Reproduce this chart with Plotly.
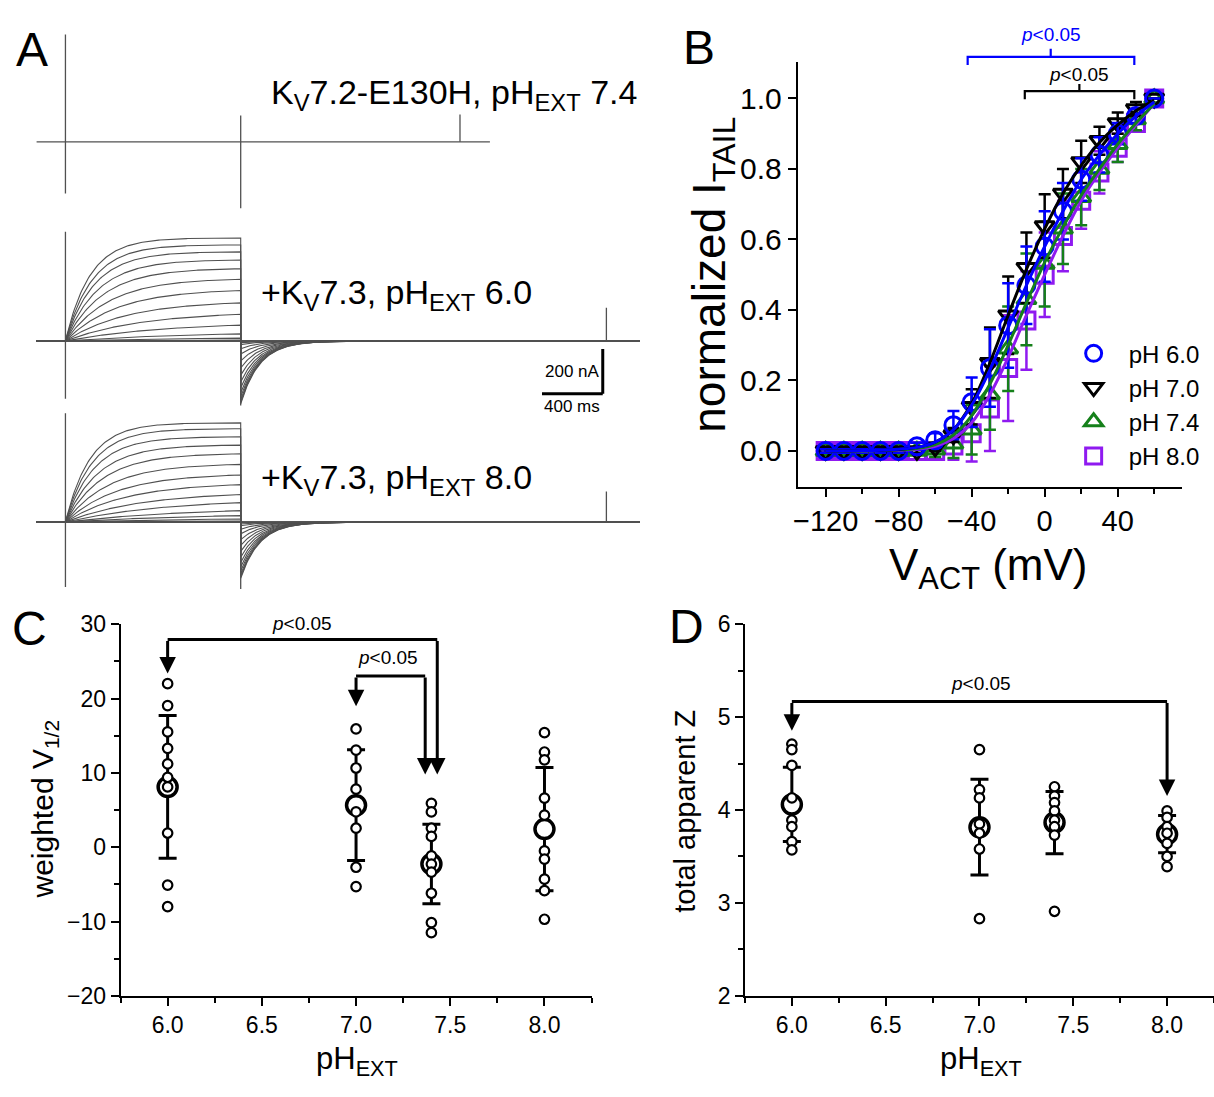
import numpy as np
import plotly.graph_objects as go

W, H = 1214, 1097
FONT = "Liberation Sans, Arial, sans-serif"

def px(x):
    return x / W

def py(y):
    return 1 - y / H

# ---------------- Panel A : current recordings ----------------
PULSE_END = 1154.0           # ms
T_START = -190.0
T_END_TOP = 2795.0
T_END = 3780.0
TAU_TAIL = 125.0
# end-of-pulse amplitudes (nA) for the 19 sweeps (+60 ... -120 mV)
mid_amp = [459, 428, 397, 361, 322, 275, 225, 170, 119, 71, 32, 13, 4, 1, 0, 0, 0, 0, 0]
bot_amp = [442, 416, 380, 343, 304, 257, 210, 167, 123, 87, 51, 29, 14, 5, 1, 0, 0, 0, 0]
# activation time constants (ms)
sweep_tau = [160, 175, 190, 215, 245, 285, 335, 400, 500, 650, 800, 900, 1000, 1000, 1000, 1000, 1000, 1000, 1000]
# tail peak amplitudes (nA)
mid_tail = [-280, -272, -262, -248, -230, -208, -182, -152, -120, -88, -58, -34, -16, -7, -3, -1, 0, 0, 0]
bot_tail = [-250, -242, -232, -218, -200, -180, -156, -130, -104, -78, -52, -32, -16, -8, -3, -1, 0, 0, 0]
# capacitive transients per block: onset up, onset down, end up, end down, spike time, spike amp
trans_top = [478, -230, 117, -296, 2598, 122]
trans_mid = [487, -257, 0, -287, 3562, 148]
trans_bot = [485, -289, 0, -298, 3562, 137]
block_offset = [0, -887, -1693.5]
trace_labels = ["K<sub>V</sub>7.2-E130H, pH<sub>EXT</sub> 7.4",
                "+K<sub>V</sub>7.3, pH<sub>EXT</sub> 6.0",
                "+K<sub>V</sub>7.3, pH<sub>EXT</sub> 8.0"]
SCALE_T, SCALE_I = 400, 200

# ---------------- Panel B : activation curves ----------------
v_act = [-120, -110, -100, -90, -80, -70, -60, -50, -40, -30, -20, -10, 0, 10, 20, 30, 40, 50, 60]
b60 = [0, 0, 0, 0, 0, 0.013, 0.03, 0.073, 0.138, 0.235, 0.356, 0.47, 0.58, 0.68, 0.77, 0.84, 0.90, 0.95, 1.0]
e60 = [0.005, 0.005, 0.005, 0.005, 0.005, 0.01, 0.02, 0.04, 0.07, 0.11, 0.12, 0.11, 0.10, 0.08, 0.06, 0.05, 0.03, 0.02, 0]
b70 = [0, 0, 0, 0, 0, 0, 0.01, 0.045, 0.125, 0.25, 0.385, 0.52, 0.638, 0.73, 0.82, 0.88, 0.93, 0.97, 1.0]
e70 = [0.005, 0.005, 0.005, 0.005, 0.005, 0.005, 0.01, 0.02, 0.05, 0.10, 0.11, 0.10, 0.09, 0.07, 0.06, 0.04, 0.03, 0.02, 0]
b74 = [0, 0, 0, 0, 0, 0, 0.003, 0.02, 0.06, 0.16, 0.29, 0.43, 0.53, 0.63, 0.72, 0.80, 0.87, 0.94, 1.0]
e74 = [0.01, 0.01, 0.01, 0.01, 0.01, 0.01, 0.02, 0.04, 0.07, 0.10, 0.12, 0.13, 0.12, 0.10, 0.08, 0.06, 0.05, 0.03, 0]
b80 = [0, 0, 0, 0, 0, 0, 0, 0.015, 0.05, 0.12, 0.235, 0.37, 0.50, 0.61, 0.71, 0.79, 0.86, 0.93, 1.0]
e80 = [0.005, 0.005, 0.005, 0.005, 0.005, 0.01, 0.02, 0.04, 0.08, 0.12, 0.15, 0.14, 0.12, 0.10, 0.08, 0.06, 0.04, 0.02, 0]
fit60 = [0, 0, 0.001, 0.002, 0.005, 0.01, 0.025, 0.06, 0.13, 0.23, 0.35, 0.47, 0.58, 0.68, 0.77, 0.84, 0.90, 0.95, 0.99]
fit70 = [0, 0, 0.001, 0.002, 0.004, 0.01, 0.025, 0.06, 0.135, 0.25, 0.385, 0.515, 0.63, 0.73, 0.81, 0.875, 0.925, 0.965, 0.995]
fit74 = [0, 0, 0, 0.001, 0.003, 0.007, 0.018, 0.045, 0.10, 0.19, 0.30, 0.42, 0.535, 0.635, 0.725, 0.80, 0.87, 0.93, 0.985]
fit80 = [0, 0, 0, 0.001, 0.002, 0.005, 0.013, 0.035, 0.08, 0.16, 0.265, 0.385, 0.50, 0.61, 0.71, 0.79, 0.86, 0.925, 0.985]
series_names = ["pH 6.0", "pH 7.0", "pH 7.4", "pH 8.0"]
series_colors = ["#0000FF", "#000000", "#15801A", "#8F1AF0"]
series_symbols = ["circle-open", "triangle-down-open", "triangle-up-open", "square-open"]
# significance brackets (mV span, centre)
brk_blue = [-42.2, 49.1, 3.3]
brk_black = [-10.9, 49.1, 19.0]

# ---------------- Panel C / D : V1/2 and z ----------------
ph_vals = [6.0, 7.0, 7.4, 8.0]
c_pts = [
    [22.0, 19.05, 15.5, 13.3, 11.2, 9.4, 8.1, 1.9, -5.1, -8.0],
    [15.9, 13.05, 10.65, 7.8, 4.74, 2.55, -2.7, -5.3],
    [5.9, 4.74, 2.55, 1.45, -1.17, -2.27, -3.36, -6.2, -10.15, -11.5],
    [15.4, 12.8, 11.75, 6.6, 4.3, -0.5, -1.6, -4.3, -5.85, -9.7],
]
c_mean = [8.1, 5.65, -2.26, 2.43]
c_sd = [9.6, 7.45, 5.34, 8.28]
d_pts = [
    [4.71, 4.65, 4.48, 4.13, 3.89, 3.82, 3.66, 3.57],
    [4.65, 4.22, 4.13, 3.85, 3.75, 3.58, 2.83],
    [4.25, 4.15, 4.08, 3.99, 3.89, 3.82, 3.73, 2.91],
    [3.99, 3.92, 3.82, 3.75, 3.64, 3.50, 3.39],
]
d_mean = [4.06, 3.815, 3.865, 3.74]
d_sd = [0.40, 0.515, 0.335, 0.20]
# significance arrows: [x_left, x_right, y_bar, y_tip_left, y_tip_right]
c_sig = [[6.0, 7.431, 27.94, 23.35, 9.77], [7.0, 7.367, 23.04, 18.97, 9.77]]
c_sig_text = [[6.714, 30.1], [7.17, 25.5]]
d_sig = [[6.0, 8.0, 5.168, 4.853, 4.15]]
d_sig_text = [[7.01, 5.36]]

fig = go.Figure()
GRAY = "#505050"

# ---- Panel A traces ----
t_pulse = np.linspace(0, PULSE_END, 140)
t_tail = np.linspace(PULSE_END, PULSE_END + 1200, 180)
for b, (amps, tails, trans) in enumerate([(None, None, trans_top), (mid_amp, mid_tail, trans_mid), (bot_amp, bot_tail, trans_bot)]):
    off = block_offset[b]
    t_end = T_END_TOP if b == 0 else T_END
    xs, ys = [], []
    if amps is None:
        xs += [T_START, t_end, None]
        ys += [off, off, None]
    else:
        for a, tl, tau in zip(amps, tails, sweep_tau):
            ip = a * (1 - np.exp(-t_pulse / tau)) / (1 - np.exp(-PULSE_END / tau))
            it = tl * np.exp(-(t_tail - PULSE_END) / TAU_TAIL)
            xs += [T_START] + list(t_pulse) + list(t_tail) + [t_end, None]
            ys += [off] + list(off + ip) + list(off + it) + [off, None]
    fig.add_trace(go.Scatter(x=xs, y=ys, mode="lines", line=dict(color=GRAY, width=1.1),
                             xaxis="x", yaxis="y", showlegend=False, hoverinfo="skip"))
    up0, dn0, up1, dn1, ts, sa = trans
    fig.add_trace(go.Scatter(
        x=[0, 0, None, PULSE_END, PULSE_END, None, ts, ts],
        y=[off + up0, off + dn0, None, off + up1, off + dn1, None, off, off + sa],
        mode="lines", line=dict(color=GRAY, width=1.3), xaxis="x", yaxis="y",
        showlegend=False, hoverinfo="skip"))

# ---- Panel B ----
bvals = [b60, b70, b74, b80]
berrs = [e60, e70, e74, e80]
bfits = [fit60, fit70, fit74, fit80]
for i in [3, 2, 1, 0]:
    fig.add_trace(go.Scatter(
        x=v_act, y=bvals[i], mode="markers", name=series_names[i], legendrank=i + 1,
        marker=dict(symbol=series_symbols[i], size=17, color=series_colors[i],
                    line=dict(width=3, color=series_colors[i])),
        error_y=dict(type="data", array=berrs[i], color=series_colors[i], thickness=2.5, width=6),
        xaxis="x2", yaxis="y2", hoverinfo="skip"))
for i in [3, 2, 1, 0]:
    fig.add_trace(go.Scatter(
        x=v_act, y=bfits[i], mode="lines", line=dict(color=series_colors[i], width=3, shape="spline"),
        xaxis="x2", yaxis="y2", showlegend=False, hoverinfo="skip"))

# ---- Panels C and D ----
for pts, means, sds, xa, ya in [(c_pts, c_mean, c_sd, "x3", "y3"), (d_pts, d_mean, d_sd, "x4", "y4")]:
    fig.add_trace(go.Scatter(
        x=ph_vals, y=means, mode="markers",
        marker=dict(symbol="circle", size=19, color="white", line=dict(width=3.5, color="black")),
        error_y=dict(type="data", array=sds, color="black", thickness=3, width=9),
        xaxis=xa, yaxis=ya, showlegend=False, hoverinfo="skip"))
    for k, p in enumerate(pts):
        fig.add_trace(go.Scatter(
            x=[ph_vals[k]] * len(p), y=p, mode="markers",
            marker=dict(symbol="circle", size=9.5, color="white", line=dict(width=2.2, color="black")),
            xaxis=xa, yaxis=ya, showlegend=False, hoverinfo="skip"))

shapes = []
annotations = []

# scale bar (panel A)
corner_t = 3538
corner_i = -1122
shapes.append(dict(type="line", xref="x", yref="y", x0=corner_t - SCALE_T, x1=corner_t,
                   y0=corner_i, y1=corner_i, line=dict(color="black", width=3)))
shapes.append(dict(type="line", xref="x", yref="y", x0=corner_t, x1=corner_t,
                   y0=corner_i, y1=corner_i + SCALE_I, line=dict(color="black", width=3)))
annotations.append(dict(xref="x", yref="y", x=corner_t - 8, y=corner_i + SCALE_I / 2, text="200 nA",
                        showarrow=False, xanchor="right", yanchor="middle", font=dict(size=17)))
annotations.append(dict(xref="x", yref="y", x=corner_t - SCALE_T / 2, y=corner_i - 55, text="400 ms",
                        showarrow=False, xanchor="center", yanchor="middle", font=dict(size=17)))
label_y = [83, 288, 478]
label_x = [265, 255, 255]
for k in range(3):
    annotations.append(dict(xref="paper", yref="paper", x=px(label_x[k]), y=py(label_y[k]),
                            text=trace_labels[k], showarrow=False, xanchor="left", yanchor="middle",
                            font=dict(size=34)))

# Panel B brackets
for (xa_, xb_, xm_), ybar, yend, ytop, col, ty in [
        (brk_blue, 45, 53.3, 36.7, "#0000FF", 21.7),
        (brk_black, 80, 88.3, 72.7, "#000000", 62.7)]:
    path = (f"M {xa_},{py(yend)} L {xa_},{py(ybar)} L {xb_},{py(ybar)} L {xb_},{py(yend)} "
            f"M {xm_},{py(ybar)} L {xm_},{py(ytop)}")
    shapes.append(dict(type="path", xref="x2", yref="paper", path=path, line=dict(color=col, width=2.2)))
    annotations.append(dict(xref="x2", yref="paper", x=xm_, y=py(ty), text="<i>p</i><0.05",
                            showarrow=False, xanchor="center", yanchor="middle",
                            font=dict(size=19, color=col)))

# Panels C/D arrows (texts placed in paper y so they are not hidden above the axis range)
for sigs, texts, xa, ya, y0px, y1px, v0, v1 in [
        (c_sig, c_sig_text, "x3", "y3", 1006.7, 626, -20, 30),
        (d_sig, d_sig_text, "x4", "y4", 1006.7, 626, 2, 6)]:
    for (xl, xr, yb, ytl, ytr), (tx, ty) in zip(sigs, texts):
        shapes.append(dict(type="line", xref=xa, yref=ya, x0=xl, x1=xr, y0=yb, y1=yb,
                           line=dict(color="black", width=3)))
        for xx, yt in [(xl, ytl), (xr, ytr)]:
            annotations.append(dict(xref=xa, yref=ya, axref=xa, ayref=ya, x=xx, y=yt, ax=xx, ay=yb,
                                    text="", showarrow=True, arrowhead=2, arrowsize=1.1,
                                    arrowwidth=3, arrowcolor="black", standoff=0, startstandoff=0))
        ty_px = y0px + (ty - v0) / (v1 - v0) * (y1px - y0px)
        annotations.append(dict(xref=xa, yref="paper", x=tx, y=py(ty_px), text="<i>p</i><0.05",
                                showarrow=False, xanchor="center", yanchor="middle", font=dict(size=19)))

# axis titles & panel letters
for txt, x, y, size, ang in [
        ("V<sub>ACT</sub> (mV)", 988, 568, 44, 0),
        ("normalized I<sub>TAIL</sub>", 711, 268, 46, -90),
        ("weighted V<sub>1/2</sub>", 40, 815, 30, -90),
        ("pH<sub>EXT</sub>", 353, 1073, 31, 0),
        ("total apparent Z", 682, 818, 29, -90),
        ("pH<sub>EXT</sub>", 980, 1073, 31, 0),
        ("A", 27, 37, 48, 0), ("B", 697, 35, 48, 0), ("C", 25, 630, 48, 0), ("D", 684, 628, 48, 0)]:
    annotations.append(dict(xref="paper", yref="paper", x=px(x), y=py(y), text=txt, showarrow=False,
                            xanchor="center", yanchor="middle", textangle=ang, font=dict(size=size)))

def data_axis(**kw):
    base = dict(showline=True, linecolor="black", linewidth=1.6, ticks="outside", ticklen=8,
                tickwidth=1.5, tickcolor="black", showgrid=False, zeroline=False, mirror=False,
                tickfont=dict(size=23, color="black"), fixedrange=True)
    base.update(kw)
    return base

fig.update_layout(
    width=W, height=H, margin=dict(l=0, r=0, t=0, b=0),
    paper_bgcolor="white", plot_bgcolor="rgba(0,0,0,0)",
    font=dict(family=FONT, color="black"),
    xaxis=dict(domain=[0, px(660)], range=[-398, 3930], visible=False, fixedrange=True),
    yaxis=dict(domain=[py(600), 1], range=[-2034.8, 573.9], visible=False, fixedrange=True),
    xaxis2=data_axis(domain=[px(796), px(1182)], range=[-135.3, 75.3], anchor="y2",
                     tickmode="linear", tick0=0, dtick=40, linewidth=2,
                     tickfont=dict(size=29, color="black"),
                     minor=dict(dtick=20, tick0=0, ticklen=5, tickwidth=1.5, tickcolor="black", ticks="outside")),
    yaxis2=data_axis(domain=[py(485), py(50.7)], range=[-0.101, 1.102], anchor="x2",
                     tickmode="linear", tick0=0, dtick=0.2, tickformat=".1f", linewidth=2,
                     tickfont=dict(size=30, color="black")),
    xaxis3=data_axis(domain=[px(116), px(589)], range=[5.75, 8.25], anchor="y3",
                     tickmode="linear", tick0=6, dtick=0.5, tickformat=".1f",
                     minor=dict(dtick=0.25, tick0=6, ticklen=5, tickwidth=1.5, tickcolor="black", ticks="outside")),
    yaxis3=data_axis(domain=[py(1006.7), py(626)], range=[-20, 30], anchor="x3",
                     tickmode="linear", tick0=0, dtick=10,
                     minor=dict(dtick=5, tick0=0, ticklen=5, tickwidth=1.5, tickcolor="black", ticks="outside")),
    xaxis4=data_axis(domain=[px(743), 1.0], range=[5.75, 8.25], anchor="y4",
                     tickmode="linear", tick0=6, dtick=0.5, tickformat=".1f",
                     minor=dict(dtick=0.25, tick0=6, ticklen=5, tickwidth=1.5, tickcolor="black", ticks="outside")),
    yaxis4=data_axis(domain=[py(1006.7), py(626)], range=[2, 6], anchor="x4",
                     tickmode="linear", tick0=0, dtick=1,
                     minor=dict(dtick=0.5, tick0=0, ticklen=5, tickwidth=1.5, tickcolor="black", ticks="outside")),
    legend=dict(x=px(1058), y=py(326), xanchor="left", yanchor="top", font=dict(size=24),
                bgcolor="rgba(0,0,0,0)", itemwidth=60, tracegroupgap=0, traceorder="normal"),
    showlegend=True,
    shapes=shapes, annotations=annotations,
)

fig.write_html("out.html")
